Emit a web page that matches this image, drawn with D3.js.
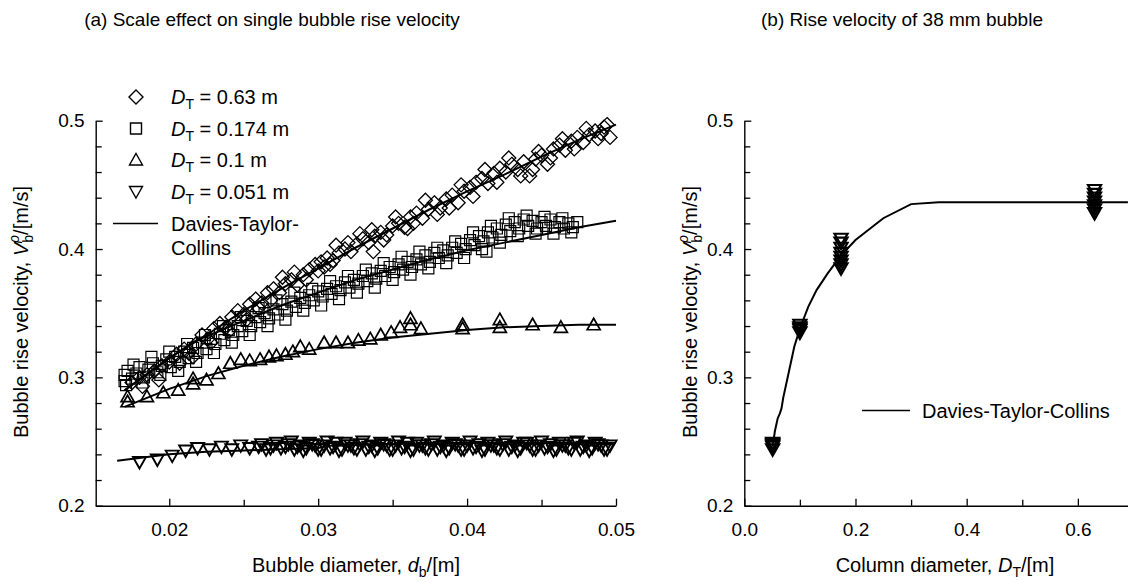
<!DOCTYPE html>
<html><head><meta charset="utf-8">
<script src="https://cdn.jsdelivr.net/npm/d3@7"></script>
<style>
html,body{margin:0;padding:0;background:#fff;}
svg{display:block;}
text{font-family:"Liberation Sans",Arial,Helvetica,sans-serif;fill:#000;}
</style></head>
<body>
<svg id="chart" width="1128" height="582"></svg>
<script>
// ---------------- DATA ----------------
const panelTitles = ["(a) Scale effect on single bubble rise velocity", "(b) Rise velocity of 38 mm bubble"];
const legendLabels = ["0.63", "0.174", "0.1", "0.051"];
const curveLabel = "Davies-Taylor-Collins";

const xTicksA = [0.02, 0.03, 0.04, 0.05];
const xMinorA = [0.025, 0.035, 0.045];
const yTicks = [0.2, 0.3, 0.4, 0.5];
const yMinor = [0.22, 0.24, 0.26, 0.28, 0.32, 0.34, 0.36, 0.38, 0.42, 0.44, 0.46, 0.48];
const xTicksB = [0.0, 0.2, 0.4, 0.6];
const xMinorB = [0.1, 0.3, 0.5];

// D_T = 0.63 m (diamonds)
const dia063 = [[0.0175,0.296],[0.0180,0.300],[0.0185,0.302],[0.0190,0.305],[0.0195,0.309],[0.0200,0.312],[0.0205,0.318],[0.0210,0.322],[0.0213,0.319],[0.0218,0.326],[0.0222,0.333],[0.0226,0.330],[0.0230,0.338],[0.0234,0.342],[0.0238,0.339],[0.0242,0.347],[0.0246,0.352],[0.0250,0.349],[0.0254,0.357],[0.0258,0.361],[0.0262,0.358],[0.0266,0.366],[0.0270,0.369],[0.0274,0.366],[0.0278,0.373],[0.0282,0.376],[0.0286,0.372],[0.0290,0.380],[0.0294,0.384],[0.0298,0.388],[0.0302,0.390],[0.0306,0.393],[0.0310,0.391],[0.0314,0.397],[0.0318,0.400],[0.0322,0.398],[0.0326,0.404],[0.0330,0.408],[0.0337,0.398],[0.0334,0.405],[0.0338,0.410],[0.0342,0.413],[0.0346,0.411],[0.0350,0.418],[0.0354,0.420],[0.0358,0.417],[0.0360,0.416],[0.0362,0.425],[0.0366,0.428],[0.0370,0.424],[0.0374,0.431],[0.0378,0.436],[0.0382,0.432],[0.0386,0.439],[0.0390,0.442],[0.0394,0.436],[0.0398,0.445],[0.0402,0.448],[0.0406,0.452],[0.0410,0.455],[0.0414,0.451],[0.0418,0.459],[0.0422,0.463],[0.0426,0.460],[0.0430,0.466],[0.0434,0.462],[0.0438,0.468],[0.0442,0.457],[0.0446,0.470],[0.0450,0.473],[0.0454,0.466],[0.0458,0.478],[0.0462,0.481],[0.0466,0.477],[0.0470,0.484],[0.0474,0.487],[0.0478,0.483],[0.0482,0.489],[0.0486,0.492],[0.0490,0.490],[0.0494,0.497],[0.0496,0.487],
  [0.0182,0.293],[0.0193,0.298],[0.0207,0.311],[0.0216,0.316],[0.0228,0.327],[0.0240,0.336],[0.0252,0.345],[0.0260,0.354],[0.0268,0.360],[0.0276,0.378],[0.0284,0.382],[0.0292,0.376],[0.0300,0.383],[0.0304,0.386],[0.0308,0.388],[0.0312,0.403],[0.0320,0.405],[0.0328,0.412],[0.0336,0.415],[0.0344,0.407],[0.0352,0.425],[0.0364,0.420],[0.0372,0.438],[0.0380,0.427],[0.0388,0.432],[0.0396,0.450],[0.0404,0.441],[0.0412,0.462],[0.0420,0.452],[0.0428,0.471],[0.0436,0.457],[0.0444,0.462],[0.0448,0.476],[0.0456,0.471],[0.0464,0.486],[0.0472,0.478],[0.0480,0.494],[0.0488,0.486],[0.0492,0.495]];

// D_T = 0.174 m (squares)
const sq0174 = [[0.0170,0.297],[0.0170,0.302],[0.0172,0.305],[0.0175,0.299],[0.0178,0.303],[0.0180,0.308],[0.0183,0.300],[0.0186,0.306],[0.0189,0.311],[0.0192,0.304],[0.0195,0.309],[0.0198,0.314],[0.0201,0.308],[0.0204,0.316],[0.0207,0.312],[0.0210,0.320],[0.0213,0.315],[0.0216,0.323],[0.0219,0.319],[0.0222,0.327],[0.0225,0.322],[0.0228,0.330],[0.0231,0.326],[0.0234,0.334],[0.0237,0.329],[0.0240,0.337],[0.0243,0.333],[0.0246,0.340],[0.0249,0.336],[0.0252,0.344],[0.0255,0.340],[0.0258,0.347],[0.0261,0.343],[0.0264,0.350],[0.0267,0.346],[0.0270,0.353],[0.0273,0.349],[0.0276,0.357],[0.0279,0.352],[0.0282,0.359],[0.0285,0.355],[0.0288,0.362],[0.0291,0.358],[0.0294,0.364],[0.0297,0.360],[0.0300,0.367],[0.0303,0.363],[0.0306,0.369],[0.0309,0.365],[0.0312,0.371],[0.0315,0.368],[0.0318,0.374],[0.0321,0.370],[0.0324,0.376],[0.0327,0.373],[0.0330,0.379],[0.0333,0.375],[0.0336,0.381],[0.0339,0.377],[0.0342,0.383],[0.0345,0.379],[0.0348,0.386],[0.0351,0.382],[0.0354,0.388],[0.0357,0.384],[0.0360,0.390],[0.0363,0.386],[0.0366,0.392],[0.0369,0.388],[0.0372,0.395],[0.0375,0.390],[0.0378,0.397],[0.0381,0.393],[0.0384,0.399],[0.0387,0.395],[0.0390,0.401],[0.0393,0.397],[0.0396,0.404],[0.0399,0.400],[0.0402,0.407],[0.0405,0.403],[0.0408,0.410],[0.0411,0.406],[0.0413,0.398],[0.0414,0.413],[0.0417,0.409],[0.0420,0.416],[0.0423,0.411],[0.0426,0.419],[0.0429,0.414],[0.0432,0.421],[0.0435,0.416],[0.0438,0.423],[0.0441,0.418],[0.0444,0.422],[0.0447,0.416],[0.0450,0.421],[0.0453,0.418],[0.0456,0.423],[0.0459,0.417],[0.0462,0.421],[0.0465,0.416],[0.0468,0.420],[0.0471,0.417],
  [0.0171,0.294],[0.0176,0.310],[0.0182,0.296],[0.0188,0.316],[0.0194,0.302],[0.0200,0.320],[0.0206,0.305],[0.0212,0.326],[0.0218,0.312],[0.0224,0.333],[0.0230,0.319],[0.0236,0.340],[0.0242,0.327],[0.0248,0.347],[0.0254,0.333],[0.0260,0.354],[0.0266,0.340],[0.0272,0.360],[0.0278,0.345],[0.0284,0.366],[0.0290,0.352],[0.0296,0.369],[0.0302,0.356],[0.0308,0.375],[0.0314,0.361],[0.0320,0.379],[0.0326,0.366],[0.0332,0.384],[0.0338,0.370],[0.0344,0.389],[0.0350,0.376],[0.0356,0.394],[0.0362,0.380],[0.0368,0.398],[0.0374,0.385],[0.0380,0.401],[0.0386,0.389],[0.0392,0.406],[0.0398,0.393],[0.0404,0.413],[0.0410,0.400],[0.0416,0.418],[0.0422,0.405],[0.0428,0.424],[0.0434,0.410],[0.0440,0.426],[0.0446,0.412],[0.0452,0.425],[0.0458,0.412],[0.0464,0.424],[0.0470,0.413],[0.0474,0.421]];

// D_T = 0.1 m (triangles up)
const tri01 = [[0.0172,0.285],[0.0172,0.281],[0.0185,0.285],[0.0196,0.288],[0.0206,0.290],[0.0216,0.299],[0.0216,0.295],[0.0225,0.298],[0.0233,0.303],[0.0241,0.311],[0.0248,0.314],[0.0254,0.313],[0.0261,0.314],[0.0267,0.316],[0.0272,0.317],[0.0278,0.318],[0.0283,0.320],[0.0288,0.324],[0.0294,0.322],[0.0304,0.327],[0.0312,0.327],[0.0320,0.327],[0.0327,0.329],[0.0335,0.330],[0.0342,0.333],[0.0349,0.335],[0.0355,0.339],[0.0362,0.346],[0.0362,0.341],[0.0369,0.338],[0.0397,0.341],[0.0397,0.338],[0.0422,0.345],[0.0422,0.339],[0.0444,0.341],[0.0463,0.339],[0.0485,0.341]];

// D_T = 0.051 m (triangles down)
const inv0051 = [[0.0180,0.234],[0.0192,0.236],[0.0202,0.239],[0.0211,0.243],[0.0219,0.245],[0.0227,0.244],[0.0235,0.246],[0.0242,0.244],[0.0248,0.247],[0.0254,0.245],[0.0260,0.246],[0.0265,0.244],[0.0270,0.247],[0.0275,0.245],[0.0280,0.248],[0.0284,0.244],[0.0288,0.247],[0.0292,0.245],[0.0296,0.248],[0.0300,0.244],[0.0304,0.247],[0.0308,0.245],[0.0312,0.249],[0.0316,0.244],[0.0320,0.247],[0.0324,0.245],[0.0328,0.248],[0.0332,0.244],[0.0336,0.247],[0.0340,0.245],[0.0344,0.248],[0.0348,0.244],[0.0352,0.247],[0.0356,0.245],[0.0360,0.249],[0.0364,0.244],[0.0368,0.247],[0.0372,0.245],[0.0376,0.248],[0.0380,0.244],[0.0384,0.247],[0.0388,0.245],[0.0392,0.248],[0.0396,0.244],[0.0400,0.247],[0.0404,0.245],[0.0408,0.248],[0.0412,0.244],[0.0416,0.247],[0.0420,0.245],[0.0424,0.248],[0.0428,0.244],[0.0432,0.247],[0.0436,0.245],[0.0440,0.249],[0.0444,0.244],[0.0448,0.247],[0.0452,0.245],[0.0456,0.248],[0.0460,0.244],[0.0464,0.247],[0.0468,0.245],[0.0472,0.249],[0.0476,0.244],[0.0480,0.247],[0.0484,0.245],[0.0488,0.248],[0.0492,0.244],[0.0496,0.247],
  [0.0262,0.248],[0.0268,0.245],[0.0272,0.249],[0.0278,0.246],[0.0282,0.250],[0.0286,0.246],[0.0290,0.243],[0.0294,0.249],[0.0298,0.247],[0.0302,0.244],[0.0306,0.250],[0.0310,0.246],[0.0314,0.243],[0.0318,0.249],[0.0322,0.247],[0.0326,0.244],[0.0330,0.250],[0.0334,0.246],[0.0338,0.243],[0.0342,0.249],[0.0346,0.247],[0.0350,0.244],[0.0354,0.250],[0.0358,0.246],[0.0362,0.243],[0.0366,0.249],[0.0370,0.247],[0.0374,0.244],[0.0378,0.250],[0.0382,0.246],[0.0386,0.243],[0.0390,0.249],[0.0394,0.247],[0.0398,0.244],[0.0402,0.250],[0.0406,0.246],[0.0410,0.243],[0.0414,0.249],[0.0418,0.247],[0.0422,0.244],[0.0426,0.250],[0.0430,0.246],[0.0434,0.243],[0.0438,0.249],[0.0442,0.247],[0.0446,0.244],[0.0450,0.250],[0.0454,0.246],[0.0458,0.243],[0.0462,0.249],[0.0466,0.247],[0.0470,0.244],[0.0474,0.250],[0.0478,0.246],[0.0482,0.243],[0.0486,0.249],[0.0490,0.247],[0.0494,0.244]];

// Davies-Taylor-Collins curves, panel (a)
const curve063 = [[0.017,0.290],[0.020,0.315],[0.0225,0.333],[0.025,0.352],[0.0275,0.369],[0.030,0.385],[0.0325,0.401],[0.035,0.416],[0.0375,0.431],[0.040,0.445],[0.0425,0.458],[0.045,0.472],[0.0475,0.485],[0.050,0.497]];
const curve0174 = [[0.017,0.290],[0.020,0.315],[0.0217,0.328],[0.025,0.344],[0.0275,0.356],[0.030,0.366],[0.0325,0.376],[0.035,0.384],[0.0375,0.392],[0.040,0.399],[0.0425,0.405],[0.045,0.411],[0.0475,0.417],[0.050,0.422]];
const curve01 = [[0.017,0.277],[0.020,0.291],[0.0225,0.301],[0.025,0.309],[0.0275,0.316],[0.030,0.322],[0.0325,0.327],[0.035,0.331],[0.0375,0.334],[0.040,0.337],[0.0425,0.339],[0.045,0.340],[0.0475,0.341],[0.050,0.341]];
const curve0051 = [[0.0165,0.235],[0.020,0.240],[0.0225,0.242],[0.025,0.243],[0.0275,0.244],[0.030,0.245],[0.031,0.247],[0.035,0.248],[0.040,0.249],[0.045,0.249],[0.050,0.249]];

// panel (b): 38 mm bubble
const riseB = [[0.051,0.244],[0.051,0.246],[0.051,0.248],[0.051,0.249],[0.051,0.247],
  [0.1,0.335],[0.1,0.337],[0.1,0.339],[0.1,0.341],[0.1,0.338],
  [0.174,0.385],[0.174,0.388],[0.174,0.391],[0.174,0.394],[0.174,0.397],[0.174,0.401],[0.174,0.405],[0.174,0.408],
  [0.63,0.428],[0.63,0.431],[0.63,0.434],[0.63,0.437],[0.63,0.440],[0.63,0.443],[0.63,0.446]];
const curveB = [[0.051,0.246],[0.055,0.258],[0.060,0.268],[0.064,0.272],[0.067,0.276],[0.070,0.284],[0.080,0.304],[0.090,0.324],[0.100,0.338],[0.115,0.355],[0.130,0.368],[0.150,0.381],[0.174,0.395],[0.200,0.407],[0.250,0.424],[0.300,0.435],[0.350,0.4365],[0.690,0.4365]];

// ---------------- DRAW ----------------
const svg = d3.select("#chart");
const FONT = 19;
const LFONT = 20;
const shapes = {
  diamond: "M0,-7L7,0L0,7L-7,0Z",
  square: "M-5.5,-5.5H5.5V5.5H-5.5Z",
  up: "M0,-6.5L6.5,5L-6.5,5Z",
  down: "M0,6.5L6.5,-5L-6.5,-5Z"
};

const xA = d3.scaleLinear().domain([0.01506, 0.05]).range([95.7, 616]);
const yA = d3.scaleLinear().domain([0.2, 0.5]).range([505.7, 120.7]);
const xB = d3.scaleLinear().domain([0, 0.69]).range([744.3, 1127.9]);
const yB = d3.scaleLinear().domain([0.2, 0.5]).range([505.7, 120.7]);

function styleAxis(g) {
  g.attr("font-family", null).attr("font-size", null);
  g.selectAll("path.domain").attr("stroke", "#000").attr("stroke-width", 1.4);
  g.selectAll(".tick line").attr("stroke", "#000").attr("stroke-width", 1.3);
  g.selectAll(".tick text").style("font-size", FONT + "px");
}

function drawAxes(x, y, xT, xM, yT, yM, xFmt) {
  const gx = svg.append("g").attr("transform", `translate(0,${y.range()[0]})`)
    .call(d3.axisBottom(x).tickValues(xT).tickFormat(d3.format(xFmt)).tickSizeInner(-7).tickSizeOuter(0).tickPadding(17));
  styleAxis(gx);
  const gxm = svg.append("g").attr("transform", `translate(0,${y.range()[0]})`)
    .call(d3.axisBottom(x).tickValues(xM).tickFormat("").tickSizeInner(-6).tickSizeOuter(0));
  styleAxis(gxm); gxm.select("path.domain").remove();
  const gy = svg.append("g").attr("transform", `translate(${x.range()[0]},0)`)
    .call(d3.axisLeft(y).tickValues(yT).tickFormat(d3.format(".1f")).tickSizeInner(-7).tickSizeOuter(0).tickPadding(11));
  styleAxis(gy);
  const gym = svg.append("g").attr("transform", `translate(${x.range()[0]},0)`)
    .call(d3.axisLeft(y).tickValues(yM).tickFormat("").tickSizeInner(-6).tickSizeOuter(0));
  styleAxis(gym); gym.select("path.domain").remove();
}

drawAxes(xA, yA, xTicksA, xMinorA, yTicks, yMinor, ".2f");
drawAxes(xB, yB, xTicksB, xMinorB, yTicks, yMinor, ".1f");

// titles
svg.append("text").attr("x", 272).attr("y", 26).attr("text-anchor", "middle").style("font-size", "19px").text(panelTitles[0]);
svg.append("text").attr("x", 902).attr("y", 26).attr("text-anchor", "middle").style("font-size", "19px").text(panelTitles[1]);

// axis titles
function xTitle(cx, pre, it, sub) {
  const t = svg.append("text").attr("x", cx).attr("y", 572).attr("text-anchor", "middle").style("font-size", LFONT + "px");
  t.append("tspan").text(pre);
  t.append("tspan").style("font-style", "italic").text(it);
  t.append("tspan").attr("dy", 5).style("font-size", "14px").text(sub);
  t.append("tspan").attr("dy", -5).text("/[m]");
}
xTitle(356, "Bubble diameter, ", "d", "b");
xTitle(945, "Column diameter, ", "D", "T");

function yTitle(cx) {
  const t = svg.append("text").attr("transform", `translate(${cx},312) rotate(-90)`).attr("text-anchor", "middle").style("font-size", LFONT + "px");
  t.append("tspan").text("Bubble rise velocity, ");
  t.append("tspan").style("font-style", "italic").text("V");
  t.append("tspan").attr("dy", 5).style("font-size", "14px").text("b");
  t.append("tspan").attr("dy", -14).attr("dx", -8).style("font-size", "14px").style("font-style", "italic").text("\u03c1");
  t.append("tspan").attr("dy", 9).text("/[m/s]");
}
yTitle(28);
yTitle(697);

// curves
const lineA = d3.line().x(d => xA(d[0])).y(d => yA(d[1]));
[curve063, curve0174, curve01, curve0051].forEach(c => {
  svg.append("path").attr("d", lineA(c)).attr("fill", "none").attr("stroke", "#000").attr("stroke-width", 2);
});
const lineB = d3.line().x(d => xB(d[0])).y(d => yB(d[1]));
svg.append("path").attr("d", lineB(curveB)).attr("fill", "none").attr("stroke", "#000").attr("stroke-width", 2);

// markers
function marks(data, shape, x, y, sw) {
  svg.append("g").selectAll("path").data(data).join("path")
    .attr("transform", d => `translate(${x(d[0])},${y(d[1])})`)
    .attr("d", shapes[shape]).attr("fill", "none").attr("stroke", "#000").attr("stroke-width", sw);
}
marks(dia063, "diamond", xA, yA, 1.3);
marks(sq0174, "square", xA, yA, 1.2);
marks(tri01, "up", xA, yA, 1.7);
marks(inv0051, "down", xA, yA, 1.9);
marks(riseB, "down", xB, yB, 2.2);

// legend panel (a)
const legShapes = ["diamond", "square", "up", "down"];
const legY = [97, 128.5, 160, 191.5];
legendLabels.forEach((lab, i) => {
  svg.append("path").attr("transform", `translate(136,${legY[i]})`).attr("d", shapes[legShapes[i]])
    .attr("fill", "none").attr("stroke", "#000").attr("stroke-width", 1.4);
  const t = svg.append("text").attr("x", 171).attr("y", legY[i] + 7).style("font-size", LFONT + "px");
  t.append("tspan").style("font-style", "italic").text("D");
  t.append("tspan").attr("dy", 5).style("font-size", "14px").text("T");
  t.append("tspan").attr("dy", -5).text(" = " + lab + " m");
});
svg.append("line").attr("x1", 113).attr("x2", 158).attr("y1", 223.5).attr("y2", 223.5).attr("stroke", "#000").attr("stroke-width", 1.5);
svg.append("text").attr("x", 171).attr("y", 230.5).style("font-size", LFONT + "px").text("Davies-Taylor-");
svg.append("text").attr("x", 171).attr("y", 255).style("font-size", LFONT + "px").text("Collins");

// legend panel (b)
svg.append("line").attr("x1", 862).attr("x2", 910).attr("y1", 410.5).attr("y2", 410.5).attr("stroke", "#000").attr("stroke-width", 1.5);
svg.append("text").attr("x", 922).attr("y", 417.5).style("font-size", LFONT + "px").text(curveLabel);
</script>
</body></html>
